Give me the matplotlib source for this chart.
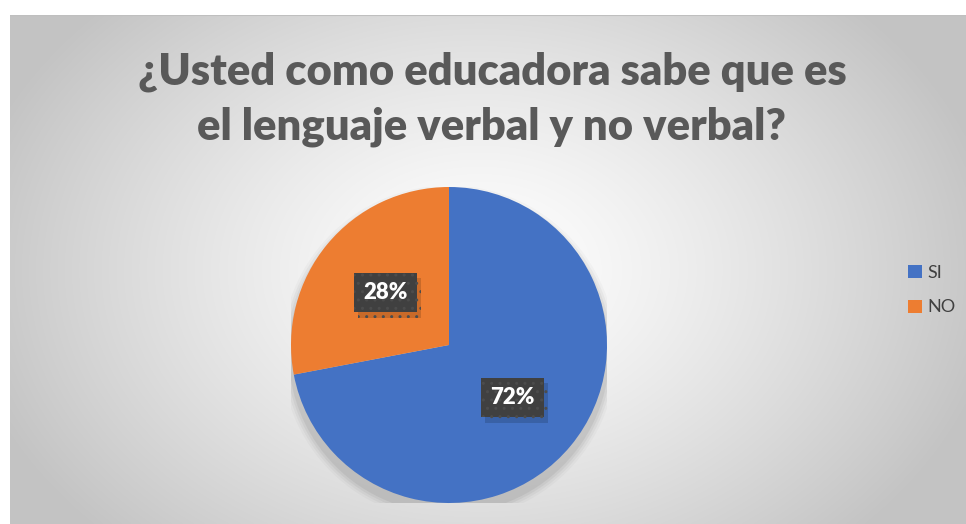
import numpy as np
import matplotlib
matplotlib.use("Agg")
import matplotlib.pyplot as plt
from matplotlib.patches import Circle, Patch
import matplotlib.patheffects as pe

categories = ["SI", "NO"]
values = [72, 28]
colors = ["#4472C4", "#ED7D31"]
title = "¿Usted como educadora sabe que es\nel lenguaje verbal y no verbal?"

W, H = 966, 524
fig = plt.figure(figsize=(W / 100, H / 100), dpi=100)
fig.patch.set_facecolor("white")

# background radial gradient panel
bx0, by0 = 10, 15  # left, top in px
bg = fig.add_axes([bx0 / W, 0, 1 - bx0 / W, (H - by0) / H])
bg.set_axis_off()
ny, nx = 300, 500
yy, xx = np.mgrid[0:ny, 0:nx]
cx, cy = nx * 0.49, ny * 0.5
r = np.sqrt(((xx - cx) / (nx * 0.55)) ** 2 + ((yy - cy) / (ny * 0.75)) ** 2)
r = np.clip(r, 0, 1)
v = 1.0 - (1.0 - 0.765) * r ** 1.3
img = np.dstack([v, v, v])
bg.imshow(img, extent=[0, 1, 0, 1], aspect="auto", interpolation="bilinear")
bg.set_xlim(0, 1)
bg.set_ylim(0, 1)
bg.plot([0, 1], [1, 1], color="#BFBFBF", lw=1.5, transform=bg.transAxes)

# pie axes
pcx, pcy, pr = 449, 345, 158
ax = fig.add_axes([(pcx - pr) / W, (H - pcy - pr) / H, 2 * pr / W, 2 * pr / H])
ax.set_aspect("equal")
ax.set_axis_off()

# soft shadow
for rad, a in [(1.06, 0.025), (1.045, 0.035), (1.03, 0.045), (1.015, 0.055)]:
    ax.add_patch(Circle((0.0, -0.05), rad, color="black", alpha=a, lw=0, zorder=0))

wedges, texts, autotexts = ax.pie(
    values, colors=colors, startangle=90, counterclock=False,
    autopct="%d%%", pctdistance=0.52, radius=1,
    wedgeprops=dict(linewidth=0),
    textprops=dict(color="white", fontsize=16, fontweight="heavy", family="Lato"),
)
ax.set_xlim(-1, 1)
ax.set_ylim(-1, 1)
for t in autotexts:
    t.set_bbox(dict(boxstyle="square,pad=0.42", facecolor="#404040", edgecolor="#4C4C4C",
                    hatch="..", linewidth=0))
    t.get_bbox_patch().set_path_effects(
        [pe.SimplePatchShadow(offset=(3, -4), shadow_rgbFace="black", alpha=0.15), pe.Normal()])
    t.set_zorder(5)

fig.text(492 / W, 1 - 99 / H, title, ha="center", va="center", fontsize=31.3,
         fontweight="heavy", family="Lato", color="#595959", linespacing=1.45)

handles = [Patch(facecolor=c, edgecolor="none") for c in colors]
leg = fig.legend(handles, categories, loc="center left", bbox_to_anchor=(892 / W, 1 - 290 / H),
                 frameon=False, handlelength=0.75, handleheight=0.75,
                 handletextpad=0.3, labelspacing=1.05, prop=dict(family="Lato", size=13))
for t in leg.get_texts():
    t.set_color("#404040")

fig.savefig("out.png", dpi=100)
